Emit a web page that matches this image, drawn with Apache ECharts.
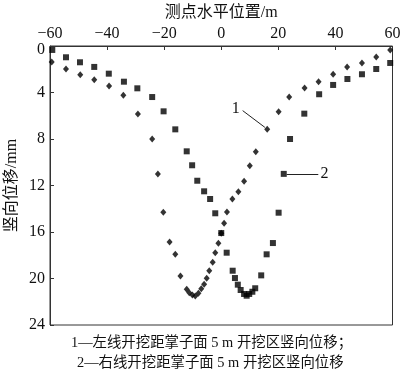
<!DOCTYPE html>
<html><head><meta charset="utf-8">
<script src="https://cdn.jsdelivr.net/npm/echarts@6/dist/echarts.min.js"></script>
<style>html,body{margin:0;padding:0;background:#fff}#c{width:400px;height:378px}</style>
</head><body><div id="c"></div>
<script>
// Series 1 (left line, diamonds): [x (m), vertical displacement (mm)]
const leftX = [-59.4,-54.4,-49.4,-44.5,-39.3,-34.3,-29.2,-24.2,-22.2,-20.3,-18.1,-16.1,-14.3,-12.1,-11.2,-10.1,-9.1,-8.0,-7.0,-6.0,-5.1,-4.2,-3.0,-2.1,-1.0,0.0,1.0,2.0,3.9,6.0,8.0,10.0,12.1,16.1,20.1,23.8,29.2,34.1,39.2,44.1,49.3,54.3,59.2];
const leftY = [1.38,1.98,2.47,2.9,3.44,4.24,5.85,8.0,11.0,14.3,16.86,17.92,19.78,20.93,21.22,21.42,21.5,21.27,20.88,20.5,19.98,19.33,18.61,17.78,16.97,16.1,15.25,14.28,13.16,12.53,11.64,10.3,9.09,7.17,5.65,4.39,3.61,3.07,2.43,1.81,1.46,0.95,0.34];
// Series 2 (right line, squares)
const rightX = [-59.2,-54.4,-49.5,-44.5,-39.4,-34.1,-29.4,-24.2,-20.2,-16.1,-12.1,-10.2,-8.4,-6.0,-3.9,-2.1,0.0,1.9,4.0,4.8,5.8,6.8,8.0,8.9,9.8,10.9,11.9,14.0,15.9,18.1,20.1,21.9,24.1,29.1,34.3,39.2,44.2,49.3,54.3,59.2];
const rightY = [0.34,0.97,1.4,1.8,2.38,3.07,3.64,4.39,5.62,7.17,9.06,10.26,11.59,12.5,13.16,14.39,16.09,17.78,19.33,19.96,20.53,20.99,21.33,21.48,21.33,21.14,20.84,19.73,17.92,16.95,14.34,11.0,8.0,5.82,4.15,3.35,2.84,2.43,1.98,1.46];
// Axis settings
const xTicks = [-60,-40,-20,0,20,40,60];
const yTicks = [0,4,8,12,16,20,24];
const xName = '测点水平位置/m';
const yName = '竖向位移/mm';
// Annotation leaders (data units)
const lead1 = [[15.3,7.0],[7.5,5.56]];
const lab1 = [5.1,5.36];
const lead2 = [[22.9,11.0],[34.0,11.0]];
const lab2 = [36.2,11.0];
const caption1 = '1—左线开挖距掌子面 5 m 开挖区竖向位移；';
const caption2 = '2—右线开挖距掌子面 5 m 开挖区竖向位移';

const FONT = "'Liberation Serif','Noto Sans CJK SC',serif";
const chart = echarts.init(document.getElementById('c'), null, {renderer:'canvas'});
const zip = (a,b)=>a.map((v,i)=>[v,b[i]]);
chart.setOption({
  animation:false,
  backgroundColor:'#fff',
  grid:{left:50,right:7.5,top:46,bottom:53,containLabel:false,outerBoundsMode:'none',
    show:true,borderColor:'#333',borderWidth:1,backgroundColor:'transparent'},
  xAxis:{type:'value',position:'top',min:xTicks[0],max:xTicks[xTicks.length-1],interval:20,
    name:xName,nameLocation:'middle',nameGap:25,nameMoveOverlap:false,
    nameTextStyle:{fontFamily:FONT,fontSize:16,color:'#111'},
    axisLine:{show:true,onZero:false,lineStyle:{color:'#333',width:1}},
    axisTick:{show:true,inside:true,length:4,lineStyle:{color:'#333'}},
    axisLabel:{fontFamily:FONT,fontSize:16,color:'#111',margin:4,formatter:v=>String(v).replace('-','\u2212')},
    splitLine:{show:false}},
  yAxis:{type:'value',inverse:true,min:yTicks[0],max:yTicks[yTicks.length-1],interval:4,
    name:yName,nameLocation:'middle',nameGap:30,nameRotate:90,nameMoveOverlap:false,
    nameTextStyle:{fontFamily:FONT,fontSize:16,color:'#111'},
    axisLine:{show:true,onZero:false,lineStyle:{color:'#333',width:1}},
    axisTick:{show:true,inside:true,length:4,lineStyle:{color:'#333'}},
    axisLabel:{fontFamily:FONT,fontSize:16,color:'#111',margin:5,
      formatter:v=>v===0?'{z|0}':String(v),
      rich:{z:{fontFamily:FONT,fontSize:16,color:'#111',padding:[7,0,0,0]}}},
    splitLine:{show:false}},
  series:[
    {name:'1',type:'scatter',symbol:'diamond',symbolSize:[6,7],itemStyle:{color:'#000'},
     data:zip(leftX,leftY),
     markLine:{silent:true,symbol:'none',label:{show:false},lineStyle:{color:'#222',width:1,type:'solid'},
       data:[[{coord:lead1[0]},{coord:lead1[1]}],[{coord:lead2[0]},{coord:lead2[1]}]]},
     markPoint:{silent:true,symbol:'circle',symbolSize:1,itemStyle:{color:'transparent'},
       label:{show:true,position:'inside',fontFamily:FONT,fontSize:16,color:'#111',formatter:p=>p.name},
       data:[{name:'1',coord:lab1},{name:'2',coord:lab2}]}},
    {name:'2',type:'scatter',symbol:'rect',symbolSize:6,itemStyle:{color:'#000'},
     data:zip(rightX,rightY)}
  ],
  graphic:[
    {type:'text',left:71,top:336,style:{text:caption1,font:"14.4px "+FONT,fill:'#111'}},
    {type:'text',left:77,top:356,style:{text:caption2,font:"14.4px "+FONT,fill:'#111'}}
  ]
});
</script></body></html>
